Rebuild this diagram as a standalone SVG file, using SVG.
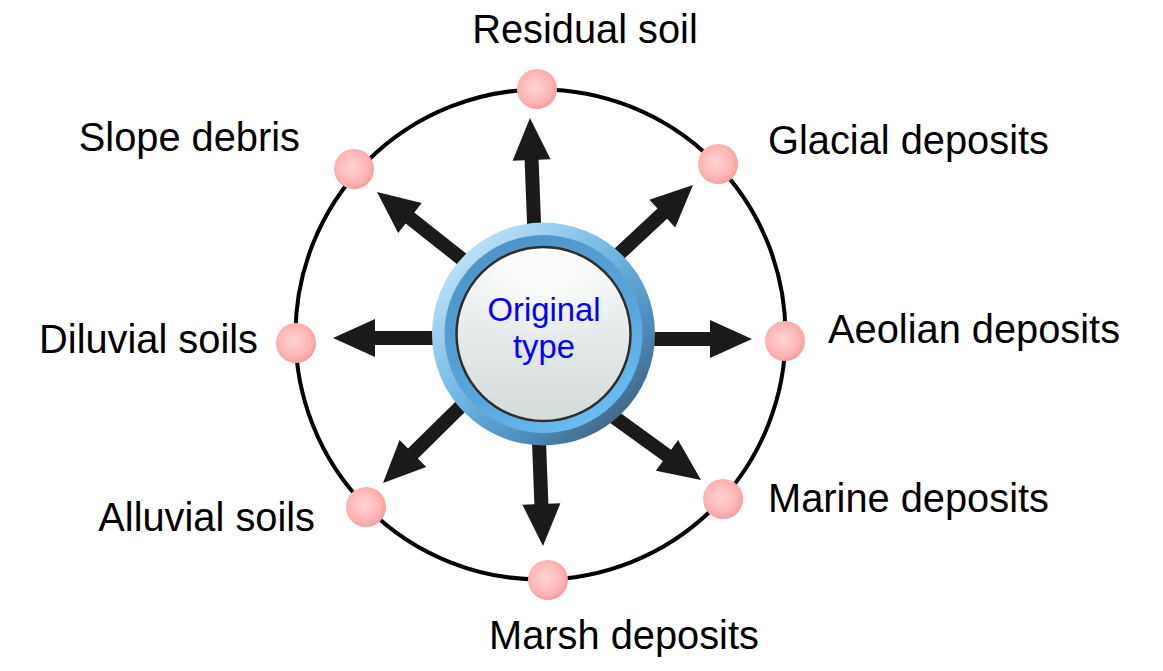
<svg xmlns="http://www.w3.org/2000/svg" width="1163" height="671" viewBox="0 0 1163 671">
<defs>
<style>
.lbl{font-family:"Liberation Sans",Arial,sans-serif;font-size:39.8px;fill:#000}
.ctr{font-family:"Liberation Sans",Arial,sans-serif;font-size:32.8px;fill:#0000ff;text-anchor:middle}
.arr{fill:#1a1a1a}
.dot{fill:url(#dotG)}
</style>
<radialGradient id="dotG" cx="0.45" cy="0.45" r="0.55">
<stop offset="0" stop-color="#ffd4d4"/>
<stop offset="0.75" stop-color="#ffb3b3"/>
<stop offset="1" stop-color="#f5a0a0"/>
</radialGradient>
<linearGradient id="outerG" x1="0.15" y1="0.1" x2="0.9" y2="0.9">
<stop offset="0" stop-color="#bfe2f8"/>
<stop offset="0.45" stop-color="#6fb4e2"/>
<stop offset="0.75" stop-color="#4c8cbc"/>
<stop offset="1" stop-color="#3f5f78"/>
</linearGradient>
<linearGradient id="midG" x1="0.2" y1="0" x2="0.8" y2="1">
<stop offset="0" stop-color="#4f92c6"/>
<stop offset="0.6" stop-color="#5aa6dc"/>
<stop offset="1" stop-color="#6cc0f5"/>
</linearGradient>
<linearGradient id="innerG" x1="0" y1="0" x2="0" y2="1">
<stop offset="0" stop-color="#fafbfb"/>
<stop offset="0.5" stop-color="#e6eaea"/>
<stop offset="1" stop-color="#d3dbdb"/>
</linearGradient>
<radialGradient id="hiG" cx="0.5" cy="0.3" r="0.6">
<stop offset="0" stop-color="#ffffff" stop-opacity="0.8"/>
<stop offset="1" stop-color="#ffffff" stop-opacity="0"/>
</radialGradient>
</defs>
<rect width="1163" height="671" fill="#fff"/>
<circle cx="540.5" cy="334.5" r="245" fill="none" stroke="#000" stroke-width="4"/>
<g id="connectors">
<polygon class="arr" transform="translate(530,118) rotate(-92.2)" points="0,0 -42,-19 -42,-7 -111,-7 -111,7 -42,7 -42,19"/>
<polygon class="arr" transform="translate(693,185) rotate(-43)" points="0,0 -42,-19 -42,-7 -111,-7 -111,7 -42,7 -42,19"/>
<polygon class="arr" transform="translate(752,339) rotate(0)" points="0,0 -42,-19 -42,-7 -107,-7 -107,7 -42,7 -42,19"/>
<polygon class="arr" transform="translate(701,480) rotate(35.9)" points="0,0 -42,-19 -42,-7 -110,-7 -110,7 -42,7 -42,19"/>
<polygon class="arr" transform="translate(543,546) rotate(87.8)" points="0,0 -42,-19 -42,-7 -111,-7 -111,7 -42,7 -42,19"/>
<polygon class="arr" transform="translate(383,483) rotate(135.4)" points="0,0 -42,-19 -42,-7 -109,-7 -109,7 -42,7 -42,19"/>
<polygon class="arr" transform="translate(333,338) rotate(180)" points="0,0 -42,-19 -42,-7 -109,-7 -109,7 -42,7 -42,19"/>
<polygon class="arr" transform="translate(377,192) rotate(-141.7)" points="0,0 -42,-19 -42,-7 -117,-7 -117,7 -42,7 -42,19"/>
</g>
<g id="center">
<circle cx="543.5" cy="334" r="111.5" fill="url(#outerG)"/>
<circle cx="543.5" cy="334" r="99" fill="url(#midG)"/>
<circle cx="543.5" cy="334" r="87" fill="url(#innerG)" stroke="#2e2e2e" stroke-width="2.5"/>
<ellipse cx="543.5" cy="300" rx="70" ry="50" fill="url(#hiG)"/>
<text class="ctr" x="544" y="321">Original</text>
<text class="ctr" x="544" y="358">type</text>
</g>
<g id="n-residual"><circle class="dot" cx="537" cy="89" r="20"/><text class="lbl" x="585" y="43" text-anchor="middle">Residual soil</text></g>
<g id="n-glacial"><circle class="dot" cx="718" cy="164" r="20"/><text class="lbl" x="768" y="154">Glacial deposits</text></g>
<g id="n-aeolian"><circle class="dot" cx="785" cy="341" r="20"/><text class="lbl" x="828" y="343">Aeolian deposits</text></g>
<g id="n-marine"><circle class="dot" cx="723" cy="499" r="20"/><text class="lbl" x="768" y="512">Marine deposits</text></g>
<g id="n-marsh"><circle class="dot" cx="548" cy="580" r="20"/><text class="lbl" x="624" y="649" text-anchor="middle">Marsh deposits</text></g>
<g id="n-alluvial"><circle class="dot" cx="366" cy="507" r="20"/><text class="lbl" x="315" y="531" text-anchor="end">Alluvial soils</text></g>
<g id="n-diluvial"><circle class="dot" cx="296" cy="343" r="20"/><text class="lbl" x="258" y="353" text-anchor="end">Diluvial soils</text></g>
<g id="n-slope"><circle class="dot" cx="354" cy="169" r="20"/><text class="lbl" x="300" y="151" text-anchor="end">Slope debris</text></g>
</svg>
